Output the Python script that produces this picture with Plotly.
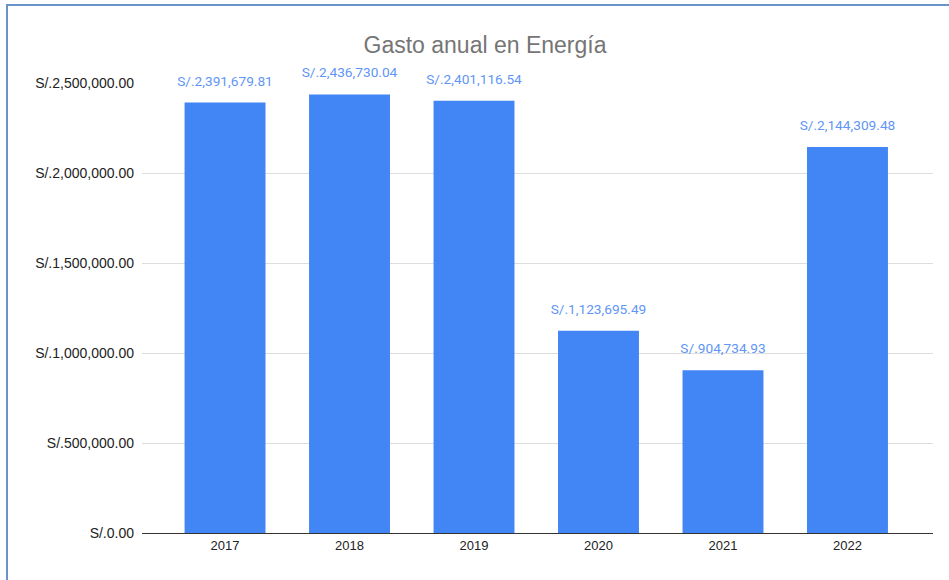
import plotly.graph_objects as go

years = ["2017", "2018", "2019", "2020", "2021", "2022"]
gasto = [2391679.81, 2436730.04, 2401116.54, 1123695.49, 904734.93, 2144309.48]
y_ticks = [0, 500000, 1000000, 1500000, 2000000, 2500000]
y_tick_text = ["S/.0.00", "S/.500,000.00", "S/.1,000,000.00", "S/.1,500,000.00",
               "S/.2,000,000.00", "S/.2,500,000.00"]

W, H = 949, 580
L, R, T, B = 142, 16, 83, 47
pw, ph = W - L - R, H - T - B

fig = go.Figure()
fig.add_trace(go.Bar(
    x=years, y=gasto,
    marker=dict(color="#4285F4", line=dict(width=0)),
    width=0.65,
    hoverinfo="skip",
))
fig.add_trace(go.Scatter(
    x=years, y=gasto,
    mode="markers+text",
    marker=dict(size=20, color="rgba(0,0,0,0)"),
    text=[f"S/.{v:,.2f}" for v in gasto],
    textposition="top center",
    textfont=dict(family="Roboto, Arial, sans-serif", size=13.7, color="#5F96F5"),
    cliponaxis=False,
    hoverinfo="skip",
))

fig.update_layout(
    width=W, height=H,
    margin=dict(l=L, r=R, t=T, b=B),
    paper_bgcolor="white", plot_bgcolor="white",
    title=dict(text="Gasto anual en Energía", x=485 / W, xanchor="center",
               y=1 - 45 / H, yanchor="middle",
               font=dict(family="Liberation Sans, Arial, sans-serif", size=23, color="#757575")),
    showlegend=False,
    xaxis=dict(range=[-0.667, 5.687], showgrid=False, showline=True, linecolor="#333333",
               linewidth=1, ticks="", tickfont=dict(family="Liberation Sans, Arial", size=13, color="#222222")),
    yaxis=dict(range=[0, 2500000], tickmode="array", tickvals=y_ticks, ticktext=y_tick_text,
               showgrid=True, gridcolor="#DDDDDD", gridwidth=1, zeroline=False,
               showline=False, ticks="", ticklabelstandoff=7,
               tickfont=dict(family="Liberation Sans, Arial", size=14, color="#222222")),
)

fig.add_shape(type="rect", xref="paper", yref="paper",
              x0=(7 - L) / pw, x1=(W + 20 - L) / pw,
              y0=-(H + 20) / ph, y1=(T + ph - 5) / ph,
              line=dict(color="#6A93CC", width=2), fillcolor="rgba(0,0,0,0)", layer="above")

fig.write_html("out.html", config={"displayModeBar": False},
               post_script="document.body.style.margin='0';document.body.style.padding='0';")
